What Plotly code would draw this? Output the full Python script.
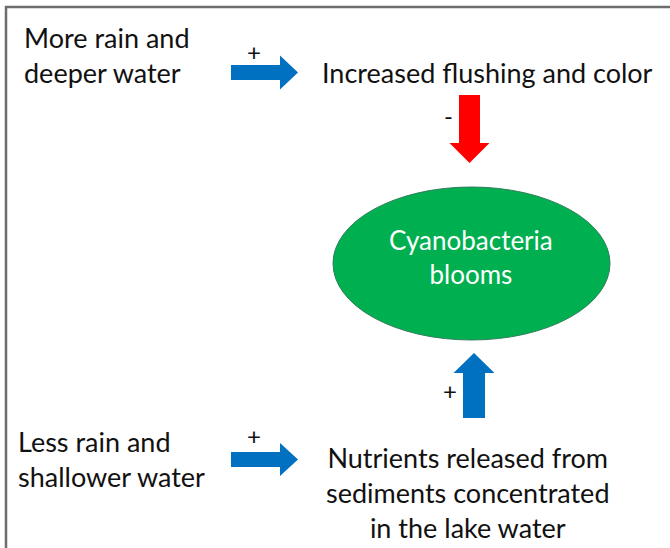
import plotly.graph_objects as go

# ---- content ----
cause_labels = ["More rain and<br>deeper water", "Less rain and<br>shallower water"]
effect_labels = ["Increased flushing and color",
                 "Nutrients released from<br>sediments concentrated<br>in the lake water"]
center_label = "Cyanobacteria<br>blooms"
signs = ["+", "-", "+", "+"]  # top horiz, red down, blue up, bottom horiz

W, H = 670, 548
FONT = "Lato, Calibri, Carlito, sans-serif"
BLUE = "#0070C0"
RED = "#FF0000"
GREEN = "#00B050"

fig = go.Figure()
fig.add_trace(go.Scatter(x=[0, W], y=[0, H], mode="markers",
                         marker=dict(opacity=0), hoverinfo="skip", showlegend=False))

def harrow(x0, y_mid, shaft_len, shaft_h, head_len, head_h):
    x1 = x0 + shaft_len
    return (f"M {x0} {y_mid - shaft_h/2} L {x1} {y_mid - shaft_h/2} L {x1} {y_mid - head_h/2} "
            f"L {x1 + head_len} {y_mid} L {x1} {y_mid + head_h/2} L {x1} {y_mid + shaft_h/2} "
            f"L {x0} {y_mid + shaft_h/2} Z")

def varrow(x_mid, y0, shaft_len, shaft_w, head_len, head_w, direction):
    d = 1 if direction == "down" else -1
    y1 = y0 + d * shaft_len
    return (f"M {x_mid - shaft_w/2} {y0} L {x_mid - shaft_w/2} {y1} L {x_mid - head_w/2} {y1} "
            f"L {x_mid} {y1 + d*head_len} L {x_mid + head_w/2} {y1} L {x_mid + shaft_w/2} {y1} "
            f"L {x_mid + shaft_w/2} {y0} Z")

shapes = []
# border (top and left)
shapes.append(dict(type="line", x0=5, y0=7, x1=W, y1=7, line=dict(color="#6d6d6d", width=2.5)))
shapes.append(dict(type="line", x0=6, y0=6, x1=6, y1=H, line=dict(color="#6d6d6d", width=2.5)))
# arrows
shapes.append(dict(type="path", path=harrow(231, 72.5, 49, 15, 18, 34), fillcolor=BLUE, line=dict(width=0)))
shapes.append(dict(type="path", path=harrow(231, 459.5, 49, 15, 18, 33), fillcolor=BLUE, line=dict(width=0)))
shapes.append(dict(type="path", path=varrow(469.5, 95, 48, 21, 20, 40, "down"), fillcolor=RED, line=dict(width=0)))
shapes.append(dict(type="path", path=varrow(474, 418, 45, 22, 20, 41, "up"), fillcolor=BLUE, line=dict(width=0)))
# ellipse
shapes.append(dict(type="circle", x0=333, y0=187, x1=610, y1=340, fillcolor=GREEN,
                   line=dict(color="#2f7d5a", width=1)))

ann = []
def txt(x, y, s, size=27, color="#111111", xanchor="center", align="center"):
    ann.append(dict(x=x, y=y, text=s, showarrow=False, xanchor=xanchor, yanchor="middle",
                    font=dict(family=FONT, size=size, color=color), align=align))

txt(22, 55, cause_labels[0], xanchor="left", align="left")
txt(16, 459, cause_labels[1], xanchor="left", align="left")
txt(487, 72, effect_labels[0])
txt(468, 492, effect_labels[1])
txt(471, 257, center_label, size=26, color="white")
txt(254, 51, signs[0], size=24)
txt(448, 115, signs[1], size=24)
txt(450, 390, signs[2], size=24)
txt(254, 435, signs[3], size=24)

fig.update_layout(
    width=W, height=H, margin=dict(l=0, r=0, t=0, b=0),
    paper_bgcolor="white", plot_bgcolor="white",
    xaxis=dict(range=[0, W], visible=False, fixedrange=True),
    yaxis=dict(range=[H, 0], visible=False, fixedrange=True),
    shapes=shapes, annotations=ann, showlegend=False,
)
fig.write_html("out.html", config=dict(displayModeBar=False),
               post_script="document.body.style.margin='0';document.body.style.overflow='hidden';")
